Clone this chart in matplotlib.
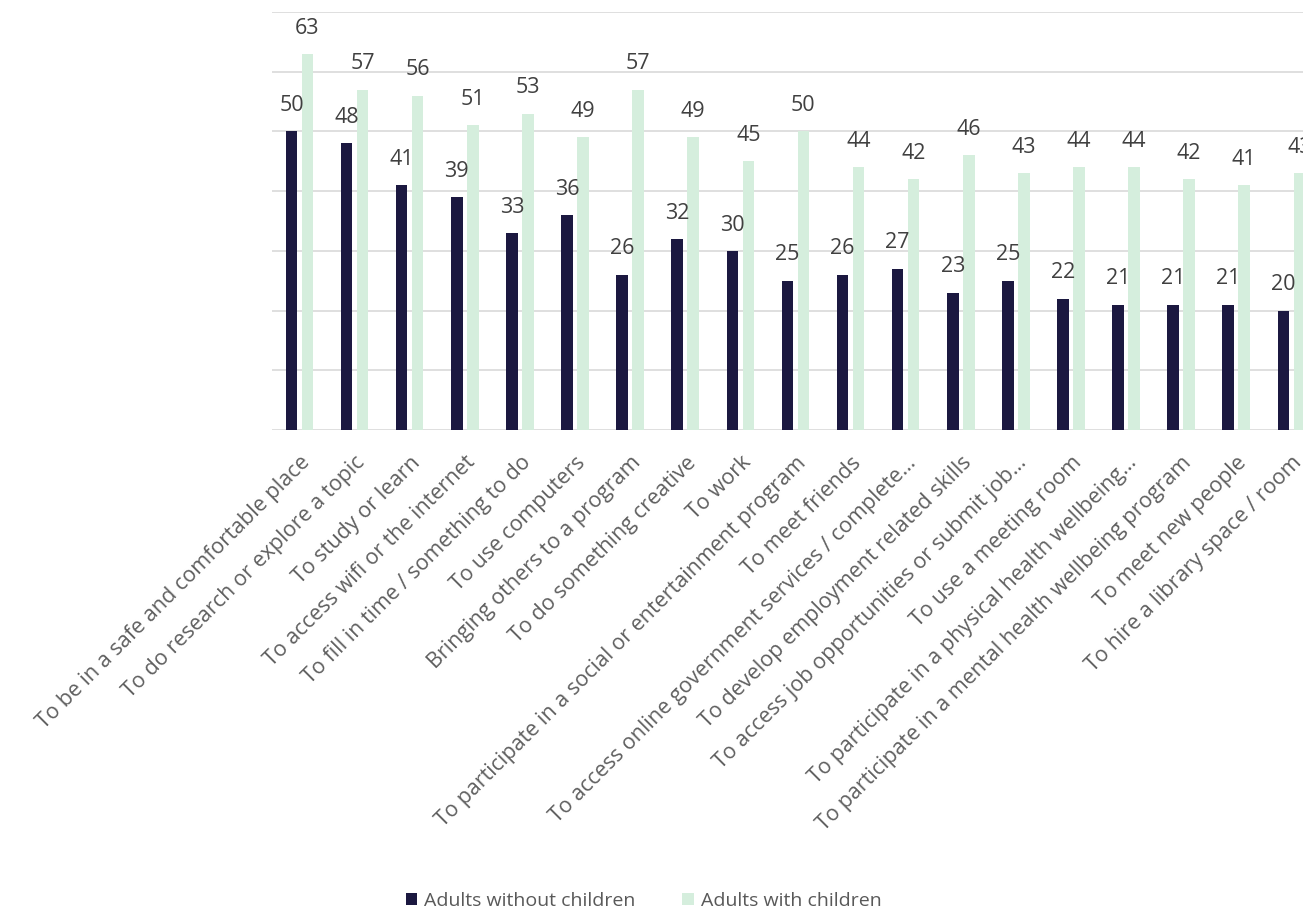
import matplotlib.pyplot as plt
import numpy as np

# 数据
categories = [
    'To be in a safe and comfortable place',
    'To do research or explore a topic',
    'To study or learn',
    'To access wifi or the internet',
    'To fill in time / something to do',
    'To use computers',
    'Bringing others to a program',
    'To do something creative',
    'To work',
    'To participate in a social or entertainment program',
    'To meet friends',
    'To access online government services / complete\u2026',
    'To develop employment related skills',
    'To access job opportunities or submit job\u2026',
    'To use a meeting room',
    'To participate in a physical health wellbeing\u2026',
    'To participate in a mental health wellbeing program',
    'To meet new people',
    'To hire a library space / room',
]
without_children = [50, 48, 41, 39, 33, 36, 26, 32, 30, 25, 26, 27, 23, 25, 22, 21, 21, 21, 20]
with_children = [63, 57, 56, 51, 53, 49, 57, 49, 45, 50, 44, 42, 46, 43, 44, 44, 42, 41, 43]

dark = '#1b1840'
green = '#d5eedd'
plt.rcParams['font.family'] = ['Open Sans', 'DejaVu Sans']

fig = plt.figure(figsize=(13.03, 9.11), dpi=100)
ax = fig.add_axes([0.2087, 0.528, 0.8035, 0.4588])

x = np.arange(len(categories))
w = 0.21
b1 = ax.bar(x - 0.145, without_children, w, color=dark, label='Adults without children', zorder=3)
b2 = ax.bar(x + 0.145, with_children, w, color=green, label='Adults with children', zorder=3)

# 数值标签
for bars in (b1, b2):
    ax.bar_label(bars, padding=11, fontsize=15.5, color='#404040')

ax.set_xlim(-0.5, len(categories) - 0.5)
ax.set_ylim(0, 70)
ax.set_yticks(np.arange(0, 71, 10))
ax.yaxis.grid(True, color='#d9d9d9', lw=1.2, zorder=0)
ax.tick_params(axis='y', left=False, labelleft=False)
ax.tick_params(axis='x', length=0, pad=16)
for s in ax.spines.values():
    s.set_visible(False)

ax.set_xticks(x)
ax.set_xticklabels(categories, rotation=45, ha='right', rotation_mode='anchor',
                   fontsize=15.5, color='#5f5f5f')

fig.legend(loc='lower center', bbox_to_anchor=(0.494, -0.018), ncol=2, frameon=False,
           fontsize=14, handlelength=0.6, handleheight=0.6, handletextpad=0.35,
           columnspacing=2.4, labelcolor='#595959')

fig.savefig('out.png', dpi=100)
